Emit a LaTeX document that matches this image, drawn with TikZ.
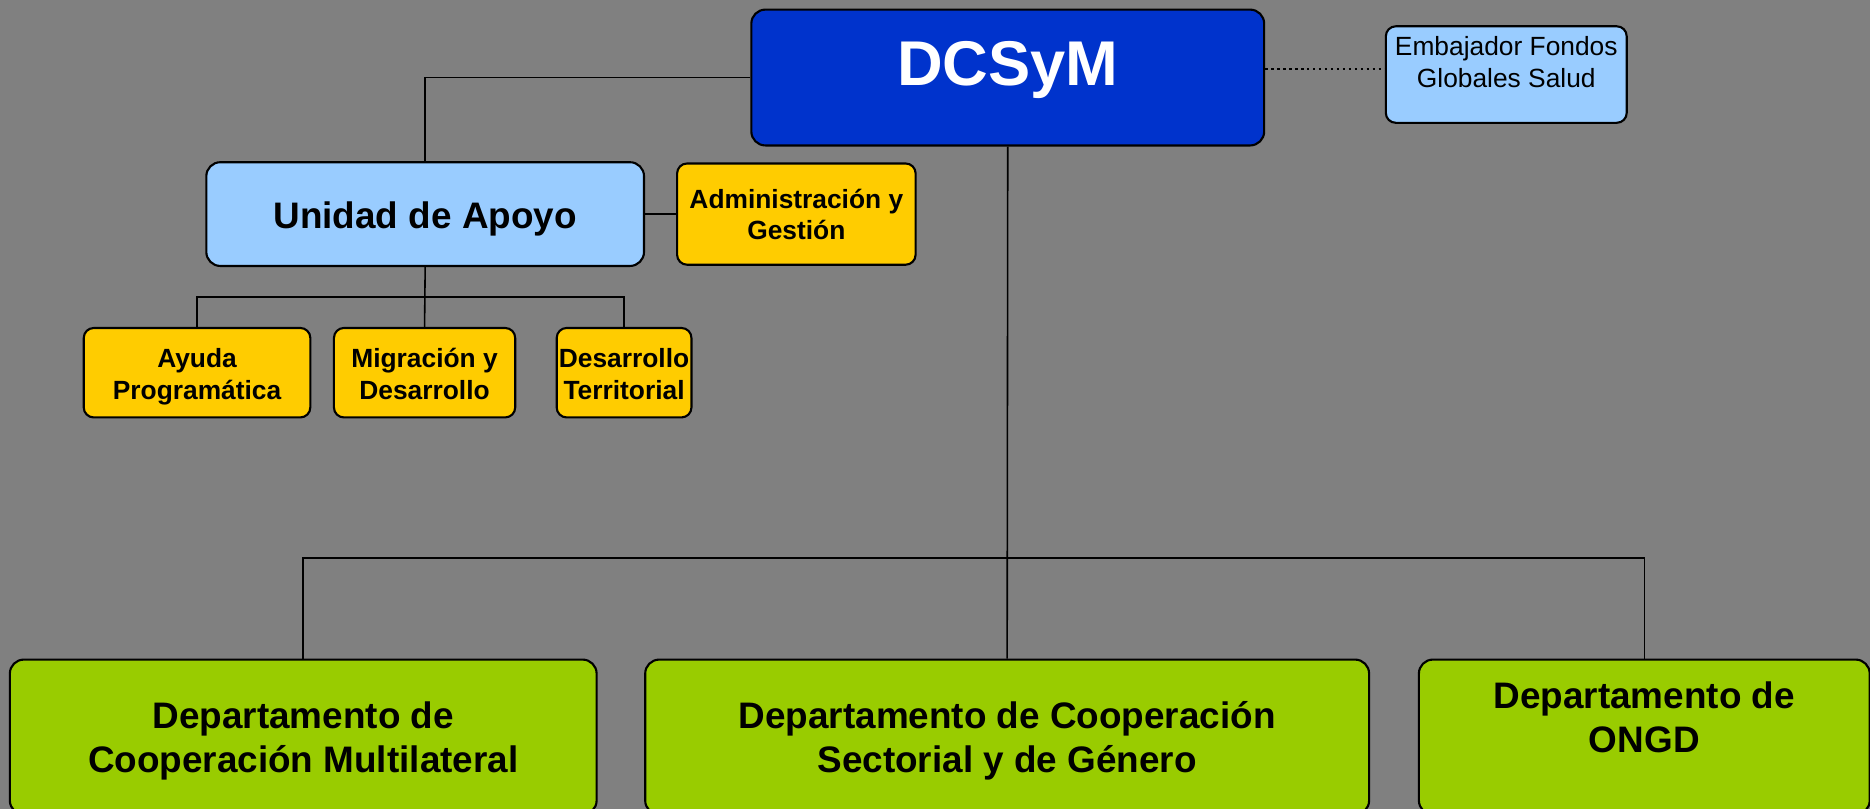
\documentclass[tikz,border=0pt]{standalone}
\usepackage{fontspec}
\setmainfont{Liberation Sans}
\usetikzlibrary{calc,positioning}
\definecolor{fondo}{HTML}{808080}
\definecolor{azulosc}{HTML}{0033CC}
\definecolor{celeste}{HTML}{99CCFF}
\definecolor{amarillo}{HTML}{FFCC00}
\definecolor{verde}{HTML}{99CC00}
\newcommand{\pu}{0.011926cm}
\tikzset{
    caja/.style={rectangle,draw,line width=0.6pt,rounded corners=0.14cm,align=center,inner sep=0pt},
    direccion/.style={caja,fill=azulosc,text=white,font=\bfseries\fontsize{18}{21}\selectfont},
    unidad/.style={caja,fill=celeste,font=\bfseries\fontsize{10.5}{12.6}\selectfont},
    asesor/.style={caja,fill=celeste,rounded corners=0.1cm,font=\fontsize{7.5}{9}\selectfont},
    apoyo/.style={caja,fill=amarillo,rounded corners=0.1cm,text height=0.716cm,text depth=0.179cm,font=\bfseries\fontsize{7.5}{9}\selectfont},
    depto/.style={caja,fill=verde,text height=1.133cm,text depth=0.417cm,font=\bfseries\fontsize{10.5}{12.6}\selectfont},
    linea/.style={draw,line width=0.45pt},
    punteada/.style={draw,densely dotted,line width=0.7pt},
}
\begin{document}
\begin{tikzpicture}[x=\pu,y=-\pu]
    \useasboundingbox (0,0) rectangle (1568,678);
    \clip (0,0) rectangle (1568,678);
    \fill [fondo] (0,0) rectangle (1568,678);

    \node [direccion,minimum width=430*\pu,text height=0.763cm,text depth=0.596cm] (dcsym) at (845,65) {DCSyM};
    \node [asesor,minimum width=202*\pu,text height=0.608cm,text depth=0.358cm] (embajador) at (1263,62.5) {Embajador Fondos\\Globales Salud};
    \path [punteada] ([yshift=0.083cm]dcsym.east) -- ([yshift=0.083cm]dcsym.east -| embajador.west);

    \node [unidad,minimum width=367*\pu,text height=0.668cm,text depth=0.370cm] (unidad) at (356.5,179.5) {Unidad de Apoyo};
    \path [linea] (dcsym.west) -| (unidad.north);
    \node [right=0.31cm of unidad,apoyo,minimum width=200*\pu,text height=0.763cm,text depth=0.250cm] (admin) {Administración y\\Gestión};
    \path [linea] (unidad.east) -- (admin.west);

    \node [apoyo,minimum width=152*\pu] (migracion) at (356,312.5) {Migración y\\Desarrollo};
    \node [left=0.215cm of migracion,apoyo,minimum width=190*\pu] (ayuda) {Ayuda\\Programática};
    \node [right=0.394cm of migracion,apoyo,minimum width=113*\pu] (territorial) {Desarrollo\\Territorial};
    \coordinate (ramal) at ($(unidad.south)!0.5!(migracion.north)$);
    \path [linea] (unidad.south) -- (migracion.north);
    \path [linea] (ayuda.north) |- (ramal) -| (territorial.north);

    \node [depto,minimum width=607*\pu] (sectorial) at (844.5,618) {Departamento de Cooperación\\Sectorial y de Género};
    \node [left=0.465cm of sectorial,depto,minimum width=492*\pu] (multilateral) {Departamento de\\Cooperación Multilateral};
    \node [right=0.477cm of sectorial,depto,minimum width=378*\pu,text height=0.930cm,text depth=0.620cm] (ongd) {Departamento de\\ONGD};
    \coordinate (ramaldep) at (845,468);
    \path [linea] (dcsym.south) -- (sectorial.north);
    \path [linea] (multilateral.north) |- (ramaldep) -| (ongd.north);
\end{tikzpicture}
\end{document}
